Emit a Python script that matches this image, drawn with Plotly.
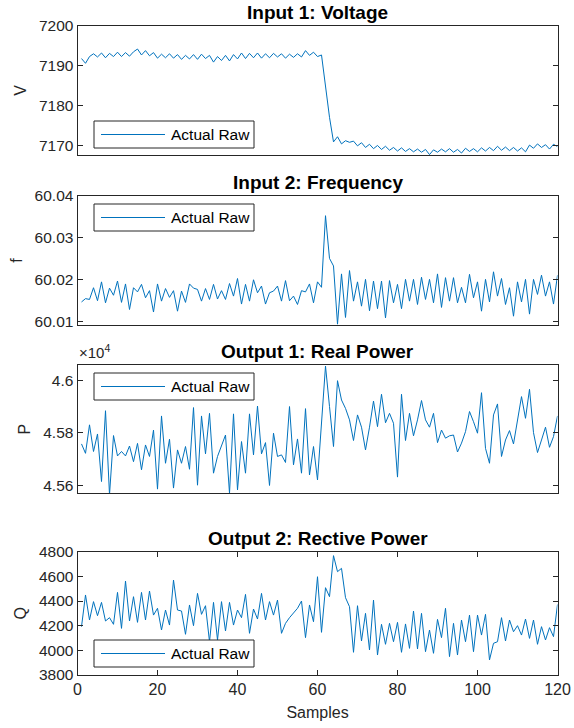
import plotly.graph_objects as go
from plotly.subplots import make_subplots

# ---- data -------------------------------------------------------------
samples = list(range(1, 121))

voltage = [
    7191.8, 7190.6, 7192.3, 7193.0, 7192.2, 7193.2, 7192.0, 7193.1, 7192.3, 7193.4,
    7192.3, 7193.3, 7192.4, 7193.5, 7194.2, 7192.7, 7193.8, 7192.5, 7193.3, 7191.9,
    7192.9, 7192.0, 7193.0, 7191.9, 7192.8, 7191.6, 7192.6, 7191.7, 7192.8, 7191.6,
    7192.9, 7191.8, 7192.6, 7190.9, 7192.3, 7191.3, 7192.6, 7191.2, 7192.8, 7191.7,
    7193.2, 7191.8, 7193.1, 7192.0, 7193.2, 7191.9, 7193.0, 7192.0, 7193.1, 7192.2,
    7193.0, 7191.9, 7192.9, 7192.1, 7193.0, 7192.2, 7193.8, 7192.6, 7193.4, 7192.3,
    7192.7, 7184.5, 7177.0, 7170.8, 7172.1, 7170.3, 7171.1, 7170.7, 7171.0, 7169.8,
    7170.6, 7169.4, 7170.2, 7169.1, 7169.9, 7168.9, 7169.7, 7168.7, 7169.4, 7168.5,
    7169.3, 7168.4, 7169.1, 7168.3, 7169.0, 7168.2, 7168.9, 7167.6, 7168.8, 7168.2,
    7169.0, 7168.3, 7169.1, 7168.2, 7168.9, 7168.0, 7169.2, 7168.4, 7169.1, 7168.3,
    7169.3, 7168.5, 7169.4, 7168.6, 7169.7, 7168.7, 7169.5, 7168.6, 7169.4, 7168.5,
    7169.3, 7168.3, 7170.0, 7169.2, 7170.3, 7169.4, 7170.1, 7169.0, 7170.2, 7169.6,
]

frequency = [
    60.0147, 60.0155, 60.0153, 60.0181, 60.0150, 60.0195, 60.0145, 60.0180, 60.0163, 60.0197,
    60.0146, 60.0190, 60.0129, 60.0181, 60.0171, 60.0189, 60.0157, 60.0174, 60.0123, 60.0190,
    60.0149, 60.0179, 60.0158, 60.0174, 60.0125, 60.0173, 60.0146, 60.0190, 60.0180, 60.0177,
    60.0149, 60.0179, 60.0153, 60.0189, 60.0154, 60.0174, 60.0153, 60.0191, 60.0161, 60.0203,
    60.0142, 60.0189, 60.0149, 60.0200, 60.0169, 60.0185, 60.0142, 60.0169, 60.0173, 60.0185,
    60.0149, 60.0198, 60.0150, 60.0161, 60.0141, 60.0174, 60.0171, 60.0190, 60.0145, 60.0195,
    60.0182, 60.0353, 60.0251, 60.0233, 60.0094, 60.0214, 60.0110, 60.0222, 60.0149, 60.0195,
    60.0137, 60.0201, 60.0126, 60.0197, 60.0131, 60.0197, 60.0109, 60.0198, 60.0145, 60.0189,
    60.0131, 60.0201, 60.0149, 60.0201, 60.0141, 60.0206, 60.0153, 60.0201, 60.0145, 60.0214,
    60.0134, 60.0205, 60.0149, 60.0205, 60.0145, 60.0182, 60.0145, 60.0213, 60.0157, 60.0195,
    60.0125, 60.0201, 60.0147, 60.0219, 60.0161, 60.0203, 60.0141, 60.0181, 60.0113, 60.0195,
    60.0147, 60.0201, 60.0118, 60.0201, 60.0165, 60.0211, 60.0161, 60.0195, 60.0142, 60.0211,
]

real_power = [
    45758, 45722, 45831, 45729, 45796, 45614, 45885, 45563, 45790, 45712,
    45729, 45712, 45750, 45690, 45760, 45659, 45754, 45710, 45811, 45585,
    45865, 45684, 45776, 45589, 45735, 45684, 45748, 45661, 45897, 45600,
    45865, 45720, 45875, 45646, 45710, 45754, 45792, 45569, 45873, 45582,
    45767, 45646, 45873, 45716, 45903, 45720, 45763, 45599, 45799, 45710,
    45716, 45687, 45901, 45678, 45777, 45646, 45893, 45639, 45748, 45620,
    45850, 46056, 45901, 45748, 46000, 45926, 45894, 45850, 45771, 45869,
    45822, 45735, 45822, 45922, 45824, 45948, 45839, 45875, 45837, 45631,
    45948, 45771, 45875, 45789, 45850, 45924, 45850, 45822, 45875, 45763,
    45811, 45780, 45789, 45792, 45727, 45761, 45805, 45882, 45843, 45799,
    45954, 45741, 45684, 45869, 45911, 45710, 45773, 45809, 45758, 45847,
    45939, 45856, 45967, 45801, 45725, 45773, 45822, 45745, 45786, 45865,
]

reactive_power = [
    4192, 4449, 4246, 4395, 4281, 4389, 4238, 4265, 4211, 4470,
    4178, 4562, 4238, 4435, 4227, 4470, 4246, 4481, 4286, 4341,
    4165, 4327, 4205, 4570, 4327, 4319, 4130, 4368, 4200, 4462,
    4292, 4362, 4070, 4389, 4084, 4395, 4157, 4389, 4205, 4327,
    4265, 4454, 4138, 4335, 4254, 4462, 4246, 4395, 4286, 4408,
    4138, 4219, 4265, 4308, 4341, 4400, 4103, 4368, 4232, 4597,
    4146, 4508, 4435, 4768, 4638, 4665, 4427, 4354, 3984, 4362,
    4076, 4300, 4003, 4408, 3962, 4211, 4049, 4219, 4070, 4227,
    3984, 4214, 4016, 4319, 4011, 4300, 3989, 4165, 3976, 4251,
    4103, 4341, 3949, 4219, 3962, 4246, 4070, 4286, 3989, 4286,
    4124, 4292, 3922, 4057, 4070, 4265, 4076, 4246, 4151, 4200,
    4124, 4254, 4097, 4246, 4049, 4192, 4084, 4184, 4111, 4373,
]

titles = ["Input 1: Voltage", "Input 2: Frequency",
          "Output 1: Real Power", "Output 2: Rective Power"]
y_labels = ["V", "f", "P", "Q"]
series = [voltage, frequency, real_power, reactive_power]
y_ranges = [[7167.5, 7200], [60.0092, 60.0400], [45569, 46060], [3800, 4800]]
y_tickvals = [[7170, 7180, 7190, 7200],
              [60.01, 60.02, 60.03, 60.04],
              [45600, 45800, 46000],
              [3800, 4000, 4200, 4400, 4600, 4800]]
y_ticktext = [["7170", "7180", "7190", "7200"],
              ["60.01", "60.02", "60.03", "60.04"],
              ["4.56", "4.58", "4.6"],
              ["3800", "4000", "4200", "4400", "4600", "4800"]]
x_ticks = [0, 20, 40, 60, 80, 100, 120]
legend_text = "Actual Raw"

# ---- layout geometry (pixels in a 574 x 728 page) -----------------------
W, H = 574, 728
X0, X1 = 77.5, 557.5
panels_px = [(26, 155), (196, 325), (365, 493.3), (551.7, 675)]
legend_top_px = [121, 204, 373, 640]

LINE = "#0072BD"
AXC = "#262626"
FONT = "Liberation Sans, Arial, Helvetica, sans-serif"


def px_x(p):
    return p / W


def px_y(p):
    return 1 - p / H


fig = make_subplots(rows=4, cols=1)

for i, vals in enumerate(series):
    fig.add_trace(
        go.Scatter(x=samples, y=vals, mode="lines",
                   line=dict(color=LINE, width=1), name=legend_text,
                   showlegend=False),
        row=i + 1, col=1,
    )

for i in range(4):
    top, bot = panels_px[i]
    n = i + 1
    last = i == 3
    xa = dict(
        domain=[px_x(X0), px_x(X1)], automargin=False,
        range=[0, 120], showgrid=False, zeroline=False,
        showline=True, linecolor=AXC, linewidth=1, mirror=True,
        ticklen=5, tickcolor=AXC,
        tickfont=dict(family=FONT, size=16, color=AXC),
    )
    if last:
        xa.update(ticks="inside", tickvals=x_ticks, showticklabels=True,
                  mirror="ticks",
                  title=dict(text="Samples",
                             font=dict(family=FONT, size=16, color=AXC),
                             standoff=9))
    else:
        xa.update(ticks="", showticklabels=False)
    fig.update_xaxes(row=n, col=1, **xa)
    fig.update_yaxes(
        row=n, col=1, automargin=False,
        domain=[px_y(bot), px_y(top)],
        range=y_ranges[i], showgrid=False, zeroline=False,
        showline=True, linecolor=AXC, linewidth=1, mirror="ticks",
        ticks="inside", ticklen=5, tickcolor=AXC,
        tickvals=y_tickvals[i], ticktext=y_ticktext[i],
        tickfont=dict(family=FONT, size=15.5, color=AXC),
        title=dict(text=y_labels[i], font=dict(family=FONT, size=16, color=AXC),
                   standoff=8),
    )

    # panel title
    fig.add_annotation(
        xref="paper", yref="paper", x=px_x((X0 + X1) / 2), y=px_y(top - 13.5),
        text="<b>" + titles[i] + "</b>", showarrow=False,
        xanchor="center", yanchor="middle",
        font=dict(family=FONT, size=19, color="#000000"),
    )

    # legend box: frame, line sample and label
    lt = legend_top_px[i]
    lb = lt + 27
    fig.add_shape(type="rect", xref="paper", yref="paper",
                  x0=px_x(94), x1=px_x(254), y0=px_y(lb), y1=px_y(lt),
                  line=dict(color=AXC, width=1), fillcolor="white", layer="above")
    fig.add_shape(type="line", xref="paper", yref="paper",
                  x0=px_x(101), x1=px_x(165), y0=px_y(lt + 13.5), y1=px_y(lt + 13.5),
                  line=dict(color=LINE, width=1), layer="above")
    fig.add_annotation(
        xref="paper", yref="paper", x=px_x(169), y=px_y(lt + 13.5),
        text=legend_text, showarrow=False, xanchor="left", yanchor="middle",
        font=dict(family=FONT, size=15.5, color="#000000"),
    )

# exponent label of the real-power axis
fig.add_annotation(
    xref="paper", yref="paper", x=px_x(77), y=px_y(363),
    text="\u00d710<sup>4</sup>", showarrow=False, xanchor="left", yanchor="bottom",
    font=dict(family=FONT, size=15, color=AXC),
)

fig.update_layout(
    width=W, height=H,
    margin=dict(l=0, r=0, t=0, b=0),
    paper_bgcolor="white", plot_bgcolor="white",
    showlegend=False,
    font=dict(family=FONT, color=AXC),
)

fig.write_html("out.html")
